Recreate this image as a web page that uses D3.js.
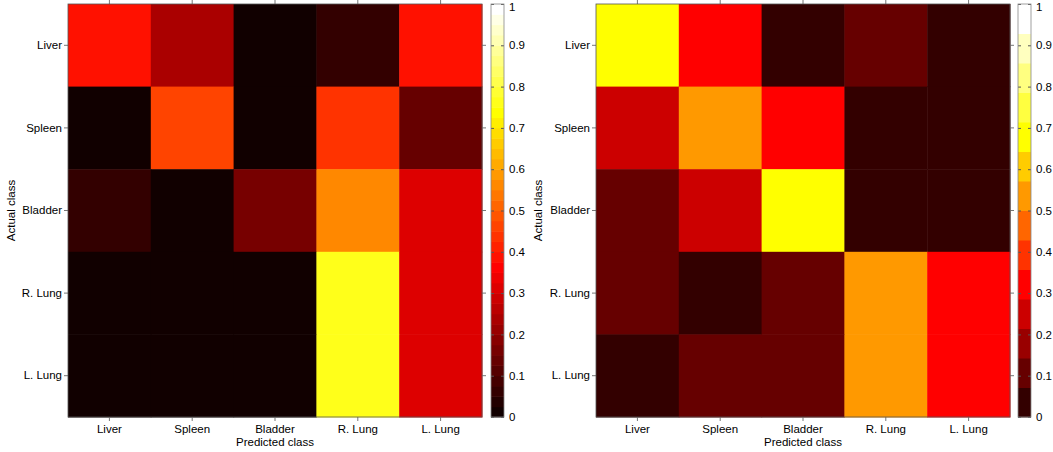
<!DOCTYPE html>
<html>
<head>
<meta charset="utf-8">
<script src="https://cdn.jsdelivr.net/npm/d3@7"></script>
<style>
  body { margin: 0; background: #fff; }
  svg text { font-family: "Liberation Sans", Arial, sans-serif; fill: #000; }
</style>
</head>
<body>
<div id="plot"></div>
<script>
// confusion matrices: rows = actual class, columns = predicted class

const classes = ["Liver", "Spleen", "Bladder", "R. Lung", "L. Lung"];

const leftValues = [
  [0.39, 0.24, 0.01, 0.06, 0.39],
  [0.01, 0.46, 0.01, 0.44, 0.14],
  [0.06, 0.01, 0.17, 0.56, 0.31],
  [0.01, 0.01, 0.01, 0.76, 0.31],
  [0.01, 0.01, 0.01, 0.76, 0.31]
];

const rightValues = [
  [0.68, 0.32, 0.03, 0.10, 0.03],
  [0.25, 0.53, 0.32, 0.03, 0.03],
  [0.10, 0.25, 0.68, 0.03, 0.03],
  [0.10, 0.03, 0.10, 0.53, 0.32],
  [0.03, 0.10, 0.10, 0.53, 0.32]
];

const barTicks = [0, 0.1, 0.2, 0.3, 0.4, 0.5, 0.6, 0.7, 0.8, 0.9, 1];
const barTickLabels = ["0", "0.1", "0.2", "0.3", "0.4", "0.5", "0.6", "0.7", "0.8", "0.9", "1"];

const w = 1053;
const h = 452;
const mapTop = 4, mapBottom = 417;
const mapWidth = 414;
const barWidth = 13;

// matlab "hot" colormap with m levels
function hot(m) {
  const n = Math.floor(3 / 8 * m);
  const colors = [];
  for (let i = 0; i < m; i++) {
    const r = i < n ? (i + 1) / n : 1;
    const g = i < n ? 0 : (i < 2 * n ? (i - n + 1) / n : 1);
    const b = i < 2 * n ? 0 : (i - 2 * n + 1) / (m - 2 * n);
    colors.push(d3.rgb(r * 255, g * 255, b * 255).toString());
  }
  return colors;
}

const svg = d3.select("div#plot")
  .append("svg")
    .attr("width", w)
    .attr("height", h);

function panel(values, levels, left, barLeft, ylabelX) {
  const color = d3.scaleQuantize()
    .domain([0, 1])
    .range(hot(levels));

  const x = d3.scaleBand()
    .domain(classes)
    .range([left, left + mapWidth]);

  const y = d3.scaleBand()
    .domain(classes)
    .range([mapTop, mapBottom]);

  const cells = [];
  values.forEach((row, i) => row.forEach((v, j) => {
    cells.push({actual: classes[i], predicted: classes[j], value: v});
  }));

  svg.append("g")
    .selectAll("rect")
    .data(cells)
    .enter().append("rect")
      .attr("x", d => x(d.predicted))
      .attr("y", d => y(d.actual))
      .attr("width", x.bandwidth() + 0.5)
      .attr("height", y.bandwidth() + 0.5)
      .attr("fill", d => color(d.value));

  // axes, ticks pointing out on all four sides
  const axes = [
    [d3.axisBottom(x).tickSize(4).tickPadding(4), `translate(0, ${mapBottom})`],
    [d3.axisTop(x).tickSize(4).tickFormat(""), `translate(0, ${mapTop})`],
    [d3.axisLeft(y).tickSize(4).tickPadding(2), `translate(${left}, 0)`],
    [d3.axisRight(y).tickSize(4).tickFormat(""), `translate(${left + mapWidth}, 0)`]
  ];
  axes.forEach(([ax, tr]) => {
    const g = svg.append("g")
      .attr("transform", tr)
      .call(ax.tickSizeOuter(0));
    g.select(".domain").remove();
    g.selectAll(".tick line").attr("stroke", "#777");
    g.selectAll(".tick text")
      .attr("font-size", 11.5)
      .attr("font-family", "Liberation Sans, Arial, sans-serif");
  });

  svg.append("rect")
    .attr("x", left)
    .attr("y", mapTop)
    .attr("width", mapWidth)
    .attr("height", mapBottom - mapTop)
    .attr("fill", "none")
    .attr("stroke", "#555")
    .attr("stroke-width", 0.8);

  svg.append("text")
    .attr("x", left + mapWidth / 2)
    .attr("y", 446)
    .attr("text-anchor", "middle")
    .attr("font-size", 11.5)
    .text("Predicted class");

  svg.append("text")
    .attr("transform", `translate(${ylabelX}, ${(mapTop + mapBottom) / 2}) rotate(-90)`)
    .attr("text-anchor", "middle")
    .attr("font-size", 11.5)
    .text("Actual class");

  // colour bar
  const cy = d3.scaleLinear()
    .domain([0, 1])
    .range([mapBottom, mapTop]);

  const steps = d3.range(levels);
  svg.append("g")
    .selectAll("rect")
    .data(steps)
    .enter().append("rect")
      .attr("x", barLeft)
      .attr("y", i => cy((i + 1) / levels))
      .attr("width", barWidth)
      .attr("height", i => cy(i / levels) - cy((i + 1) / levels) + 0.5)
      .attr("fill", i => color((i + 0.5) / levels));

  const barAxis = svg.append("g")
    .attr("transform", `translate(${barLeft + barWidth}, 0)`)
    .call(d3.axisRight(cy)
      .tickValues(barTicks)
      .tickFormat((d, i) => barTickLabels[i])
      .tickSize(-3)
      .tickPadding(5)
      .tickSizeOuter(0));
  barAxis.select(".domain").remove();
  barAxis.selectAll(".tick line").attr("stroke", "#555");
  barAxis.selectAll(".tick text")
    .attr("font-size", 11.5)
    .attr("font-family", "Liberation Sans, Arial, sans-serif")
    .attr("dy", d => d === 1 ? "0.55em" : "0.32em");

  const barAxisLeft = svg.append("g")
    .attr("transform", `translate(${barLeft}, 0)`)
    .call(d3.axisLeft(cy)
      .tickValues(barTicks)
      .tickFormat("")
      .tickSize(-3)
      .tickSizeOuter(0));
  barAxisLeft.select(".domain").remove();
  barAxisLeft.selectAll(".tick line").attr("stroke", "#555");

  svg.append("rect")
    .attr("x", barLeft)
    .attr("y", mapTop)
    .attr("width", barWidth)
    .attr("height", mapBottom - mapTop)
    .attr("fill", "none")
    .attr("stroke", "#888")
    .attr("stroke-width", 0.8);
}

panel(leftValues, 40, 68, 491, 15);
panel(rightValues, 14, 596, 1018, 542);
</script>
</body>
</html>
